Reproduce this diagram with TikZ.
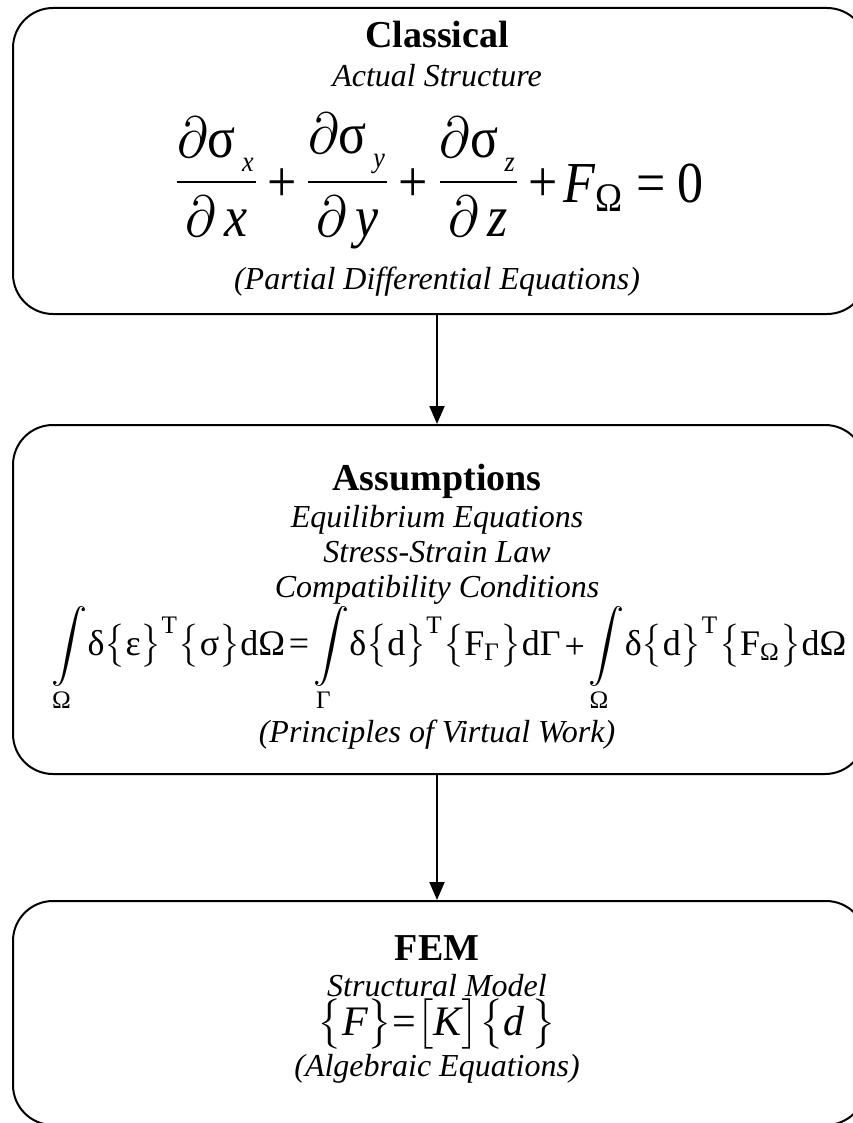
\documentclass[tikz,border=0pt]{standalone}
\usepackage{amsmath}
\usepackage{graphicx}
\usepackage{fontspec}
\setmainfont{Liberation Serif}
\usetikzlibrary{arrows.meta}
\newcommand{\ts}[1]{\text{\normalfont #1}}
\newcommand{\ti}[1]{\text{\normalfont\itshape #1}}
\newcommand{\pfrac}[2]{\frac{\partial\ts{σ}_{\raisebox{-1pt}{$\scriptscriptstyle\,\ti{#1}$}}}{\partial\,\ti{#2}}}
\newcommand{\pl}{\mathbin{\lower0.9pt\hbox{\normalfont +}}}
\newcommand{\eqs}{\mathrel{\ts{=}}}
\tikzset{
  box/.style={draw, line width=2pt, rounded corners=40pt, inner sep=0pt},
  ttl/.style={font=\fontsize{38}{40}\selectfont\bfseries, anchor=base, inner sep=0pt},
  sub/.style={font=\fontsize{32}{34}\selectfont\itshape, anchor=base, inner sep=0pt},
  eqn/.style={anchor=base, inner sep=0pt, font=\fontsize{10}{12}\selectfont},
  flow/.style={line width=2pt, -{Triangle[length=18pt,width=15pt]}}
}
\begin{document}
\begin{tikzpicture}[x=1pt,y=-1pt]
\useasboundingbox (0,0) rectangle (852,1123);
% boxes
\node[box, minimum width=854pt, minimum height=306pt] (b1) at (440,161) {};
\node[box, minimum width=852pt, minimum height=349pt] (b2) at (439,599.5) {};
\node[box, minimum width=853pt, minimum height=224pt] (b3) at (439.5,1013) {};
\coordinate (ax) at (437,0);
% box 1
\node[ttl] (t1) at (437,48) {Classical};
\node[sub] (s1) at (437,87) {Actual Structure};
\node[eqn] (e1) at (437,196.5)
  {\scalebox{5.2}[5.8]{$\medmuskip=1.8mu\thickmuskip=2mu\displaystyle\pfrac{x}{x}\pl\pfrac{y}{y}\pl\pfrac{z}{z}\pl\lower1.1pt\hbox{$\thickmuskip=4mu\ti{F}_{\ts{Ω}}\eqs\ts{0}$}$}};
\node[sub] (p1) at (437,289) {(Partial Differential Equations)};
% box 2
\node[ttl] (t2) at (437,490) {Assumptions};
\node[sub] (s2a) at (437,527) {Equilibrium Equations};
\node[sub] (s2b) at (437,562) {Stress-Strain Law};
\node[sub] (s2c) at (437,597) {Compatibility Conditions};
\node[eqn] (e2) at (449,655)
  {\scalebox{3.6}{$\medmuskip=2mu\thickmuskip=2mu\displaystyle\int\limits_{\ts{Ω}}\!\ts{δ}\bigl\{\ts{ε}\bigr\}^{\ts{T}}\bigl\{\ts{σ}\bigr\}\ts{dΩ}\eqs\int\limits_{\ts{Γ}}\!\ts{δ}\bigl\{\ts{d}\bigr\}^{\ts{T}}\bigl\{\ts{F}_{\ts{Γ}}\bigr\}\ts{dΓ}\pl\int\limits_{\ts{Ω}}\!\ts{δ}\bigl\{\ts{d}\bigr\}^{\ts{T}}\bigl\{\ts{F}_{\ts{Ω}}\bigr\}\ts{dΩ}$}};
\node[sub] (p2) at (437,742) {(Principles of Virtual Work)};
% box 3
\node[ttl] (t3) at (437,960) {FEM};
\node[sub] (s3) at (437,996) {Structural Model};
\node[eqn] (e3) at (437,1035)
  {\scalebox{4.2}{$\thickmuskip=0mu\bigl\{\ti{F}\bigr\}\eqs\bigl[\ti{K}\bigr]\bigl\{\ti{d}\,\bigr\}$}};
\node[sub] (p3) at (437,1076) {(Algebraic Equations)};
% connectors
\draw[flow] (b1.south -| ax) -- (b2.north -| ax);
\draw[flow] (b2.south -| ax) -- (b3.north -| ax);
\end{tikzpicture}
\end{document}
